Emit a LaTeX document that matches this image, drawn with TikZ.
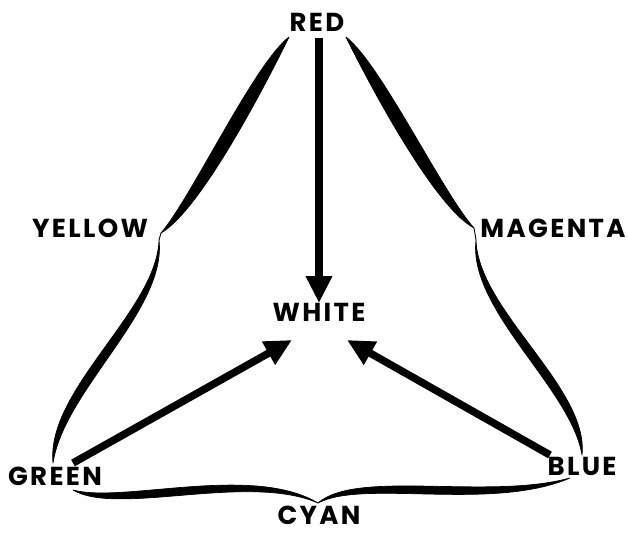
\documentclass[tikz,border=0pt]{standalone}
\usepackage{fontspec}
\newfontfamily\labfont{Poppins}[LetterSpace=9]
\usetikzlibrary{arrows.meta,calc}
\tikzset{
  lab/.style={font=\labfont\bfseries\fontsize{26}{26}\selectfont, inner sep=0pt, anchor=center},
  bigarrow/.style={line width=7.5pt, -{Triangle[length=27pt,width=25pt]}},
  ink/.style={fill=black, draw=black, line width=0.7pt, line join=round},
  hair/.style={draw=black, line width=0.9pt, line cap=round},
}
% #1 start, #2 control 1, #3 control 2, #4 end, #5/#6 half-offsets of the controls
\newcommand\brushstroke[6]{%
  \path[ink] (#1) .. controls ($(#2)!#5!90:(#1)$) and ($(#3)!#6!-90:(#4)$) .. (#4)
     .. controls ($(#3)!#6!90:(#4)$) and ($(#2)!#5!-90:(#1)$) .. (#1) -- cycle;}
\begin{document}
\begin{tikzpicture}[x=1pt,y=-1pt]
\useasboundingbox (0,0) rectangle (628,533);
\fill[white] (0,0) rectangle (628,533);

% labels
\node[lab] (red) at (317,22) {RED};
\node[lab] (yellow) at (90,228) {YELLOW};
\node[lab] (magenta) at (553,228) {MAGENTA};
\node[lab] (white) at (319,312) {WHITE};
\node[lab] (green) at (55,476) {GREEN};
\node[lab] (blue) at (582,466) {BLUE};
\node[lab] (cyan) at (319,515.5) {CYAN};

% boundary strokes
\brushstroke{289,37}{262,70}{197,203}{161,233}{10pt}{8pt}
\draw[hair] (161,233) -- (159,240);
\brushstroke{159,240}{162,310}{55,390}{53,463}{5pt}{9pt}

\brushstroke{346,37}{373,70}{438,200}{474,228}{10pt}{8pt}
\draw[hair] (474,228) -- (476,240);
\brushstroke{476,240}{473,310}{580,388}{582,455}{5pt}{9pt}

\brushstroke{73,490}{120,510}{250,468}{318,503}{7pt}{5pt}
\brushstroke{318,503}{360,474}{490,506}{570,478}{6pt}{6pt}

% arrows
\draw[bigarrow] ([xshift=2pt,yshift=-16pt]red.center) -- ([yshift=9pt]white.center);
\draw[bigarrow] ([xshift=18pt,yshift=13pt]green.center) -- ([xshift=-27pt,yshift=-28pt]white.center);
\draw[bigarrow] ([xshift=-32pt,yshift=11pt]blue.center) -- ([xshift=28pt,yshift=-28pt]white.center);
\end{tikzpicture}
\end{document}
